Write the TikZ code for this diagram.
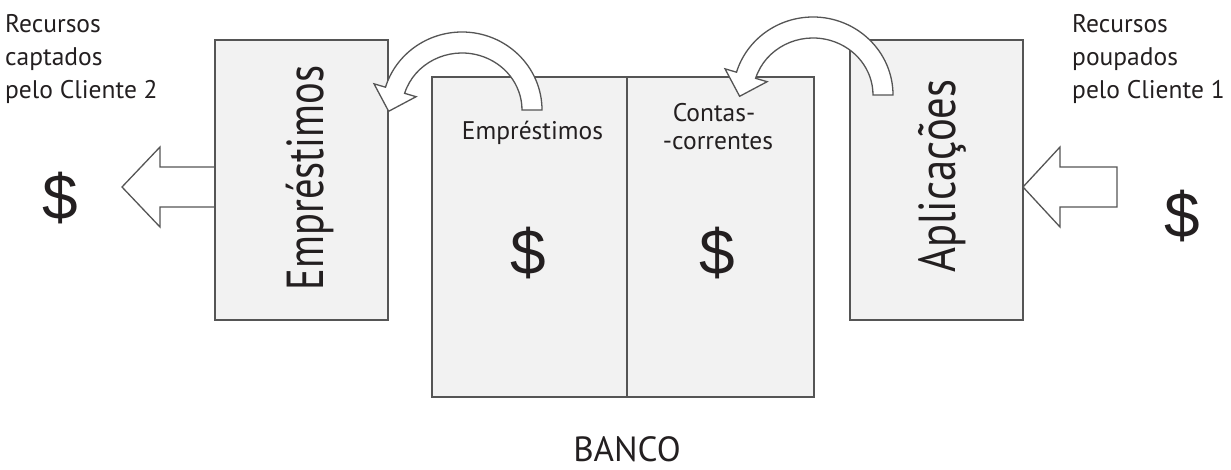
\documentclass[tikz,border=0pt]{standalone}
\usepackage{fontspec}
\usepackage{graphicx}
\setmainfont{PT Sans}
\newfontfamily\dollarfont{Liberation Sans}
\usetikzlibrary{calc}
\definecolor{boxfill}{HTML}{F2F2F2}
\definecolor{edge}{HTML}{555555}
\definecolor{ink}{HTML}{231F20}
\tikzset{
  x=1pt, y=1pt,
  box/.style={draw=edge, fill=boxfill, line width=1.5pt, inner sep=0pt, outer sep=0pt},
  blockarrow/.style={draw=edge, fill=white, line width=1.3pt, line join=miter},
  smalltext/.style={text=ink, inner sep=0pt, font=\fontsize{25.5}{33}\selectfont},
  bigtext/.style={text=ink, inner sep=0pt, font=\fontsize{52}{60}\selectfont},
  dollar/.style={text=ink, inner sep=0pt, font=\dollarfont\fontsize{64}{70}\selectfont},
  bend arrow/.pic={
    \draw[blockarrow] (80pt,0pt) arc[start angle=0, end angle=163, x radius=80pt, y radius=78pt]
      -- (-87.98pt,26.16pt) -- (-73.37pt,-1.31pt) -- (-45.9pt,13.3pt)
      -- (163:60pt and 57pt) arc[start angle=163, end angle=0, x radius=60pt, y radius=57pt]
      -- cycle;
  }
}
\begin{document}
\begin{tikzpicture}
\useasboundingbox (0,0) rectangle (1231,-470);

% block arrows (outside)
\coordinate (la) at (122,-187);
\coordinate (ra) at (1023,-187);
\draw[blockarrow] (215,-167) -- (160,-167) -- (160,-147) -- (la) -- (160,-227) -- (160,-207) -- (215,-207);
\draw[blockarrow] (ra) -- (1060,-147) -- (1060,-167) -- (1117,-167) -- (1117,-207) -- (1060,-207) -- (1060,-227) -- cycle;

% boxes
\node[box, minimum width=173, minimum height=280] (emp) at (301.5,-180) {};
\node[box, minimum width=173, minimum height=280] (apl) at (936.5,-180) {};
\node[box, minimum width=195, minimum height=320] (pagel) at (529.5,-237) {};
\node[box, minimum width=187, minimum height=320] (pager) at (720.5,-237) {};

% texts
\node[smalltext, anchor=north west, align=left] (lab2) at (5,-14) {Recursos\\captados\\pelo Cliente 2};
\node[smalltext, anchor=north west, align=left] (lab1) at (1072,-14) {Recursos\\poupados\\pelo Cliente 1};
\node[dollar] (d2) at (60,-198) {\$};
\node[dollar] (d1) at (1182,-216) {\$};
\node[bigtext, rotate=90, anchor=base] (vemp) at (323,-178) {\scalebox{0.78}[1]{Empréstimos}};
\node[bigtext, rotate=90, anchor=base] (vapl) at (955,-176) {\scalebox{0.82}[1]{Aplicações}};
\node[smalltext, anchor=base] (temp) at (532.5,-140) {Empréstimos};
\node[smalltext, anchor=base] (tcc1) at (714,-122) {Contas-};
\node[smalltext, anchor=base] (tcc2) at (718,-150) {-correntes};
\node[dollar] (dl) at (528,-253) {\$};
\node[dollar] (dr) at (717,-253) {\$};
\node[text=ink, inner sep=0pt, font=\fontsize{35}{40}\selectfont, anchor=base] (banco) at (627,-461) {BANCO};

% curved arrows
\pic at (462,-110) {bend arrow};
\pic at (813,-95) {bend arrow};
\end{tikzpicture}
\end{document}
